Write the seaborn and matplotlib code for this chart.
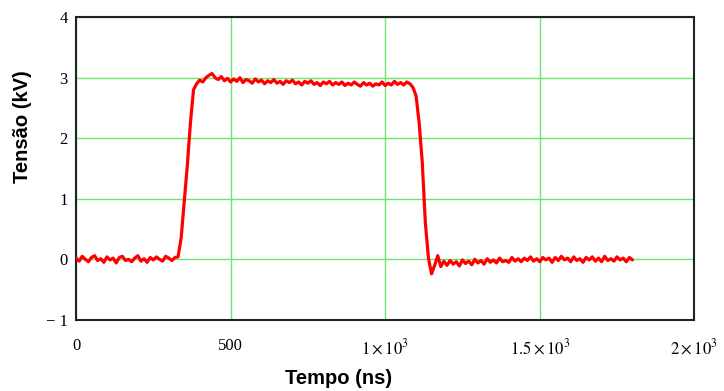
import numpy as np
import matplotlib
matplotlib.use("Agg")
import matplotlib.pyplot as plt
import pandas as pd
import seaborn as sns

# voltage trace, 10 ns steps per segment
base1_start = 0
base1_kv = [0.02, -0.03, 0.05, 0.00, -0.04, 0.03, 0.06, -0.02, 0.01, -0.05, 0.04,
            -0.01, 0.02, -0.06, 0.03, 0.05, -0.02, 0.00, -0.04, 0.02, 0.06, -0.03,
            0.01, -0.05, 0.03, -0.01, 0.04, 0.00, -0.03, 0.05, 0.02, -0.02, 0.03]

rise_start = 330
rise_kv = [0.04, 0.35, 0.95, 1.55, 2.25, 2.80, 2.90, 2.96, 2.93, 3.00, 3.04, 3.07, 3.00]

plateau_start = 460
plateau_kv = [2.97, 3.02, 2.95, 2.99, 2.93, 2.98, 2.94, 3.00, 2.92, 2.97, 2.95, 2.91,
              2.98, 2.93, 2.96, 2.90, 2.95, 2.92, 2.97, 2.91, 2.94, 2.89, 2.95, 2.92,
              2.96, 2.90, 2.93, 2.88, 2.94, 2.91, 2.95, 2.89, 2.92, 2.87, 2.93, 2.90,
              2.94, 2.88, 2.92, 2.89, 2.93, 2.87, 2.91, 2.88, 2.93, 2.89, 2.86, 2.92,
              2.88, 2.91, 2.86, 2.90, 2.88, 2.93, 2.87, 2.91, 2.88, 2.94, 2.89, 2.92,
              2.88, 2.93, 2.90]

fall_start = 1090
fall_kv = [2.84, 2.70, 2.25, 1.60, 0.60, 0.02, -0.24, -0.10, 0.06]

base2_start = 1180
base2_kv = [-0.12, -0.03, -0.10, -0.02, -0.08, -0.04, -0.11, -0.01, -0.07, -0.03,
            -0.09, 0.00, -0.06, -0.02, -0.08, 0.01, -0.05, -0.01, -0.06, 0.02,
            -0.04, -0.02, -0.05, 0.03, -0.03, 0.01, -0.04, 0.02, -0.02, 0.04,
            -0.03, 0.01, -0.04, 0.03, -0.01, 0.02, -0.05, 0.03, -0.02, 0.05,
            -0.01, 0.02, -0.04, 0.04, -0.02, 0.01, -0.05, 0.03, -0.01, 0.04,
            -0.03, 0.02, -0.04, 0.05, -0.02, 0.01, -0.03, 0.04, -0.01, 0.02,
            -0.04, 0.03, -0.01]

x_ticks = [0, 500, 1000, 1500, 2000]
x_labels = ["0", "500", r"$1\times10^{3}$", r"$1.5\times10^{3}$", r"$2\times10^{3}$"]
y_ticks = [-1, 0, 1, 2, 3, 4]
y_labels = ["\u2212 1", "0", "1", "2", "3", "4"]

segments = [(base1_start, base1_kv), (rise_start, rise_kv), (plateau_start, plateau_kv),
            (fall_start, fall_kv), (base2_start, base2_kv)]
t_ns = np.concatenate([start + 10 * np.arange(len(v)) for start, v in segments])
v_kv = np.concatenate([v for _, v in segments])
df = pd.DataFrame({"Tempo": t_ns, "Tensao": v_kv})

sns.set_style("white")
plt.rcParams["mathtext.fontset"] = "stix"
plt.rcParams["text.color"] = "black"
plt.rcParams["xtick.color"] = "black"
plt.rcParams["ytick.color"] = "black"

fig = plt.figure(figsize=(7.24, 3.91), dpi=100)
ax = fig.add_axes([0.105, 0.182, 0.854, 0.774])

sns.lineplot(data=df, x="Tempo", y="Tensao", color="#ff0000", lw=2.3, ax=ax, zorder=3)

ax.set_xlim(0, 2000)
ax.set_ylim(-1, 4)
ax.set_xticks(x_ticks)
ax.set_xticklabels(x_labels, family="Liberation Serif", fontsize=12)
ax.set_yticks(y_ticks)
ax.set_yticklabels(y_labels, family="Liberation Serif", fontsize=12)
ax.tick_params(axis="x", length=0, pad=13)
ax.tick_params(axis="y", length=0, pad=6)
ax.grid(True, color="#6fe36f", lw=1.0, zorder=0)
ax.set_axisbelow(True)
for s in ax.spines.values():
    s.set_color("#222222")
    s.set_linewidth(1.5)

ax.set_xlabel("Tempo (ns)", family="Liberation Sans", fontweight="bold", fontsize=14.5,
              color="black")
ax.set_ylabel("Tensão (kV)", family="Liberation Sans", fontweight="bold", fontsize=14.5,
              color="black")
ax.xaxis.set_label_coords(0.424, -0.163)
ax.yaxis.set_label_coords(-0.072, 0.64)

fig.savefig("out.png", dpi=100)
